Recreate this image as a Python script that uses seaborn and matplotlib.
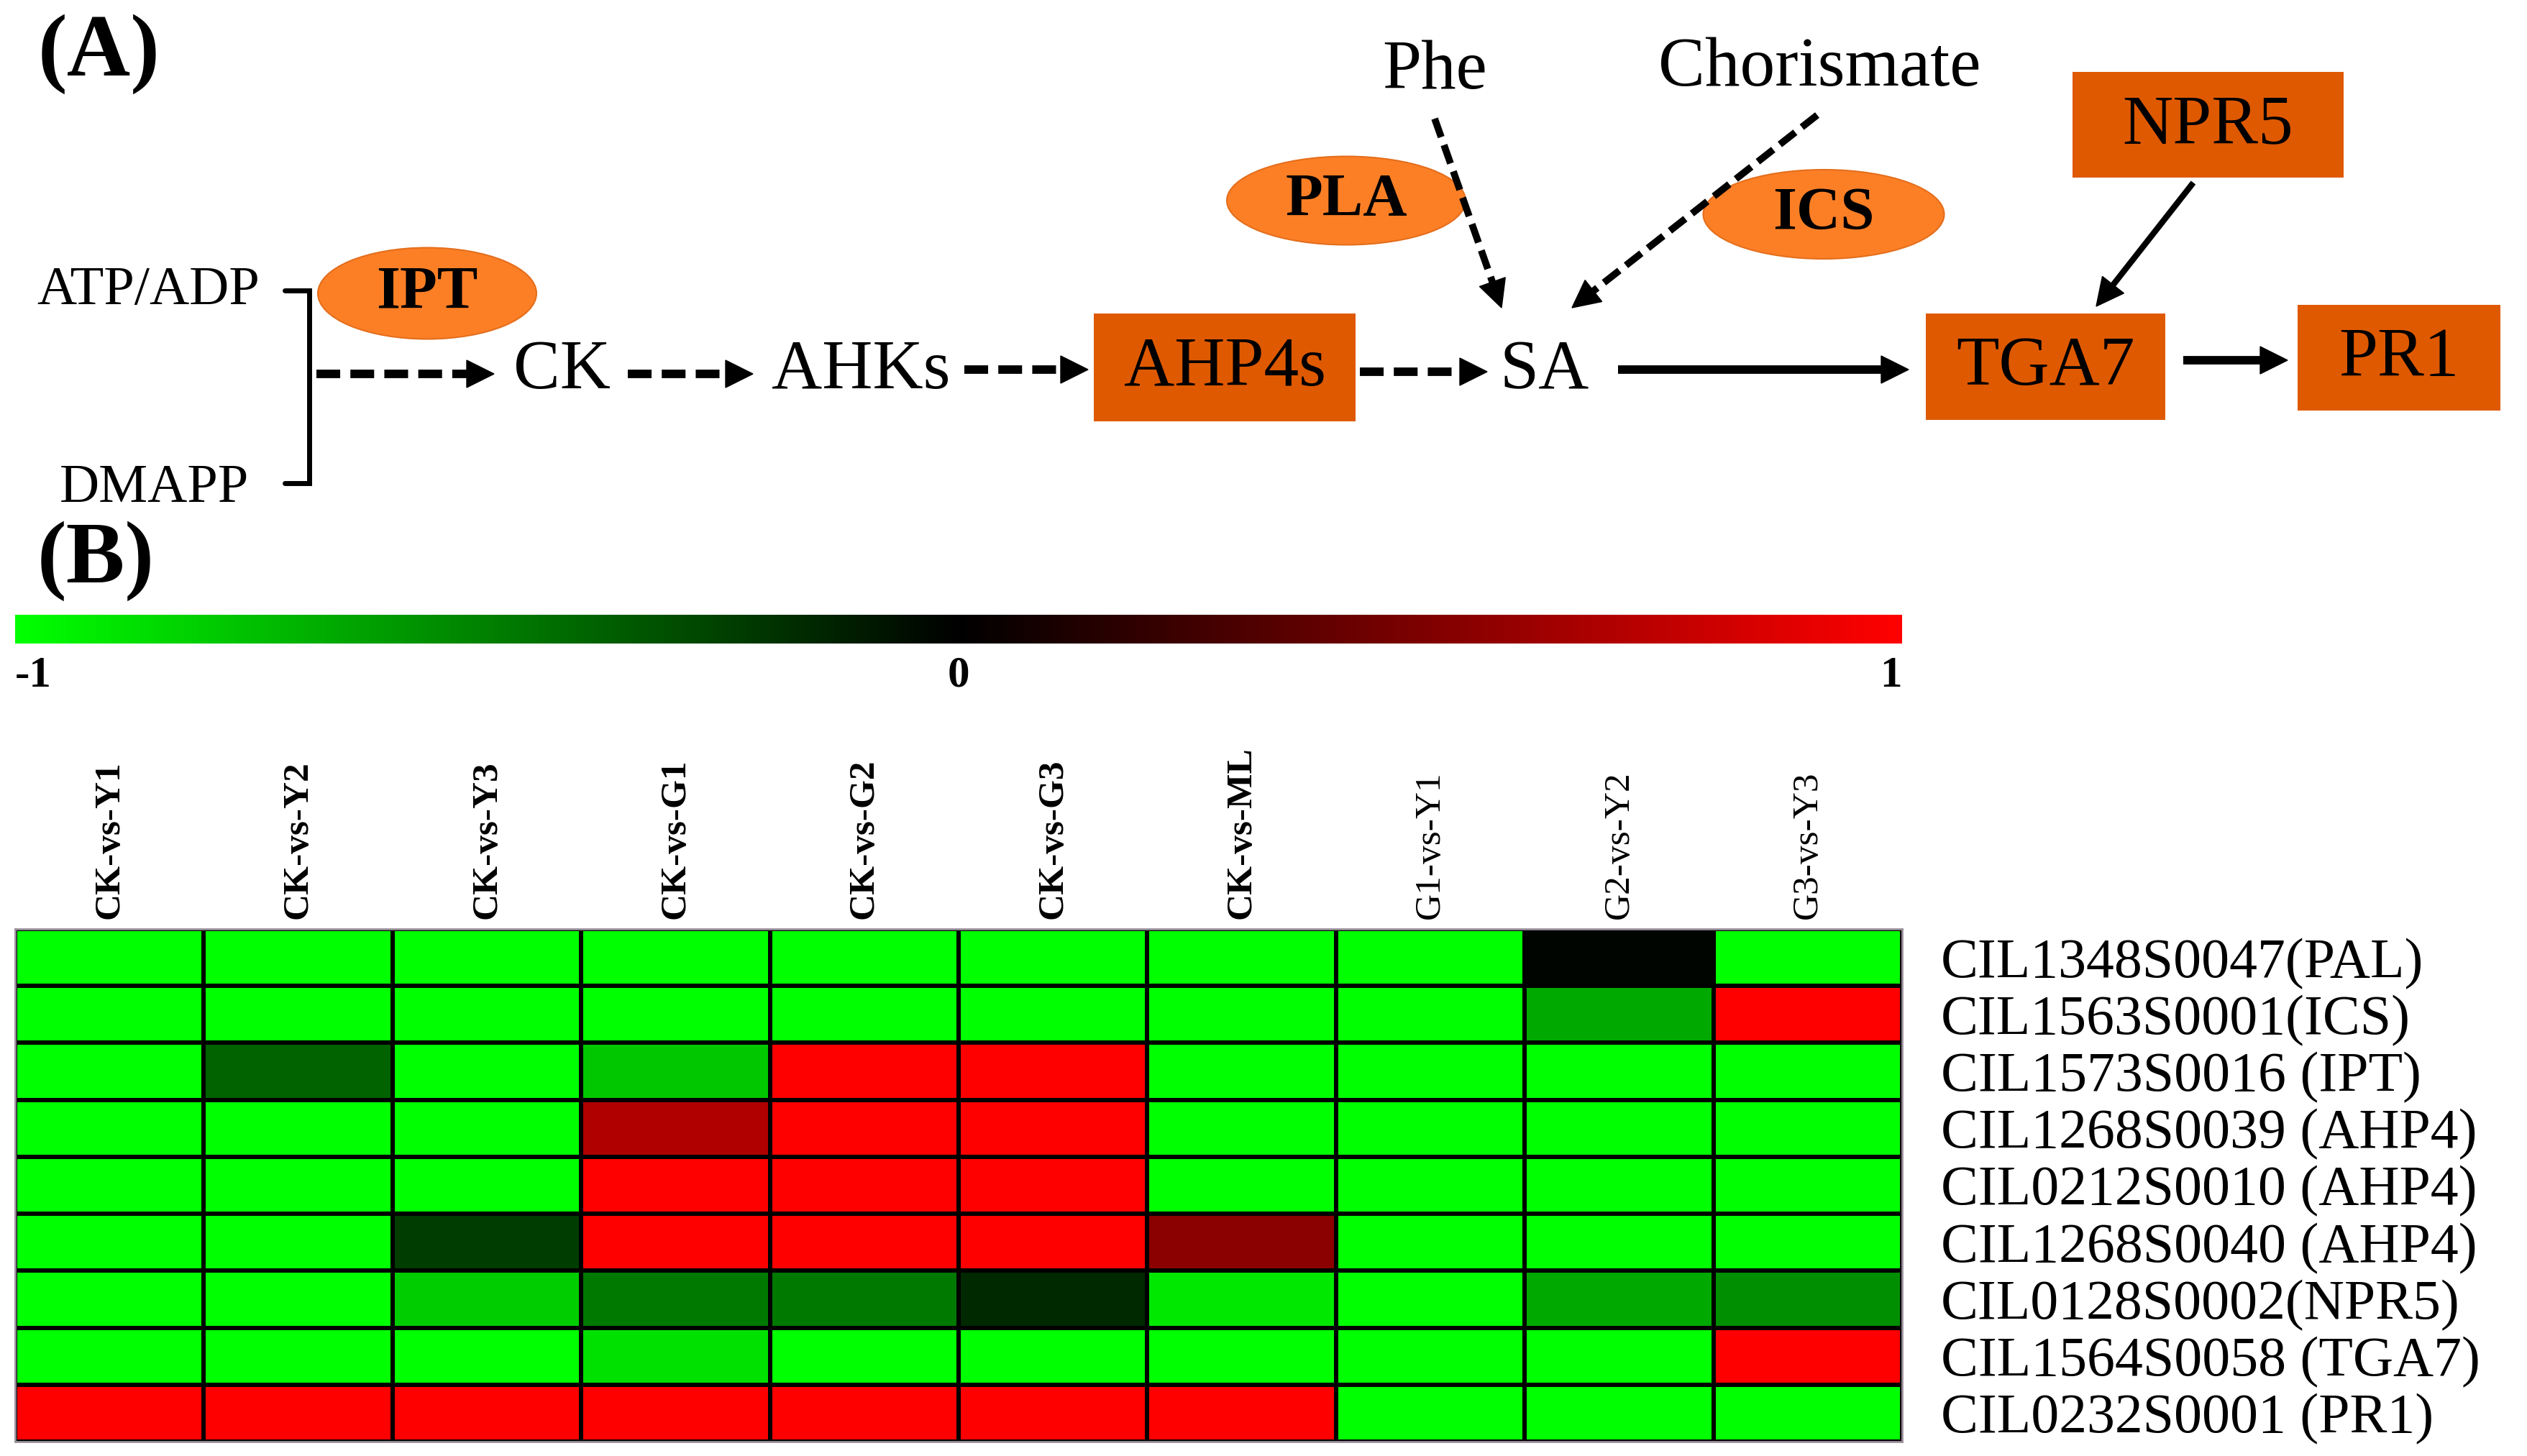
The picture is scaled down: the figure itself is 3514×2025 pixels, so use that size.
import matplotlib
matplotlib.use('Agg')
import matplotlib.pyplot as plt
import seaborn as sns
import numpy as np
import pandas as pd
from matplotlib.colors import LinearSegmentedColormap
from matplotlib.patches import Ellipse, Rectangle, Polygon

# Données de la heatmap (log2 fold change, échelle -1 .. 1)
comparaisons = ['CK-vs-Y1', 'CK-vs-Y2', 'CK-vs-Y3', 'CK-vs-G1', 'CK-vs-G2',
                'CK-vs-G3', 'CK-vs-ML', 'G1-vs-Y1', 'G2-vs-Y2', 'G3-vs-Y3']
genes = ['CIL1348S0047(PAL)', 'CIL1563S0001(ICS)', 'CIL1573S0016 (IPT)',
         'CIL1268S0039 (AHP4)', 'CIL0212S0010 (AHP4)', 'CIL1268S0040 (AHP4)',
         'CIL0128S0002(NPR5)', 'CIL1564S0058 (TGA7)', 'CIL0232S0001 (PR1)']

pal = [-1, -1, -1, -1, -1, -1, -1, -1, -0.02, -1]
ics = [-1, -1, -1, -1, -1, -1, -1, -1, -0.66, 1]
ipt = [-1, -0.39, -1, -0.78, 1, 1, -1, -1, -1, -1]
ahp4_a = [-1, -1, -1, 0.69, 1, 1, -1, -1, -1, -1]
ahp4_b = [-1, -1, -1, 1, 1, 1, -1, -1, -1, -1]
ahp4_c = [-1, -1, -0.24, 1, 1, 1, 0.54, -1, -1, -1]
npr5 = [-1, -1, -0.8, -0.47, -0.47, -0.16, -0.9, -1, -0.66, -0.56]
tga7 = [-1, -1, -1, -0.88, -1, -1, -1, -1, -1, 1]
pr1 = [1, 1, 1, 1, 1, 1, 1, -1, -1, -1]

colorbar_ticks = [-1, 0, 1]

W, H = 3514, 2025
SERIF = 'Liberation Serif'

sns.set_style('white')
plt.rcParams['font.family'] = [SERIF, 'DejaVu Serif']
plt.rcParams['text.color'] = 'black'
plt.rcParams['xtick.color'] = 'black'
plt.rcParams['ytick.color'] = 'black'

fig = plt.figure(figsize=(W / 100, H / 100), dpi=100)

# Axe de fond en coordonnées pixels pour le schéma (A)
ax0 = fig.add_axes([0, 0, 1, 1])
ax0.set_xlim(0, W)
ax0.set_ylim(H, 0)
ax0.axis('off')

ELL_COL = '#FC7F26'
BOX_COL = '#DF5900'


def fleche(x0, y0, x1, y1, dashed=True, lw=8.5, hl=38, hw=19):
    d = np.array([x1 - x0, y1 - y0], dtype=float)
    L = np.hypot(*d)
    u = d / L
    n = np.array([-u[1], u[0]])
    xe, ye = x1 - u[0] * hl, y1 - u[1] * hl
    ls = (0, (2.8, 1.2)) if dashed else '-'
    ax0.plot([x0, xe], [y0, ye], color='black', lw=lw, linestyle=ls,
             solid_capstyle='butt', dash_capstyle='butt', zorder=5)
    tete = Polygon([[x1, y1], [xe + n[0] * hw, ye + n[1] * hw],
                    [xe - n[0] * hw, ye - n[1] * hw]], closed=True,
                   color='black', zorder=5)
    ax0.add_patch(tete)


def ellipse(cx, cy, w, h, txt):
    ax0.add_patch(Ellipse((cx, cy), w, h, facecolor=ELL_COL,
                          edgecolor='#E46E1C', lw=1.5, zorder=2))
    ax0.text(cx, cy, txt, ha='center', va='center', fontsize=61,
             fontweight='bold', color='black', zorder=3)


def boite(x0, y0, x1, y1, txt):
    ax0.add_patch(Rectangle((x0, y0), x1 - x0, y1 - y0, facecolor=BOX_COL,
                            edgecolor='none', zorder=2))
    ax0.text((x0 + x1) / 2, (y0 + y1) / 2 + 2, txt, ha='center', va='center',
             fontsize=70, color='black', zorder=3)


# Étiquettes de panneaux
ax0.text(138, 75, '(A)', ha='center', va='center', fontsize=88, fontweight='bold')
ax0.text(133, 780, '(B)', ha='center', va='center', fontsize=88, fontweight='bold')

# Substrats et crochet
ax0.text(206, 405, 'ATP/ADP', ha='center', va='center', fontsize=55)
ax0.text(214, 680, 'DMAPP', ha='center', va='center', fontsize=55)
ax0.plot([396, 430, 430, 396], [404, 404, 672, 672], color='black', lw=5,
         solid_joinstyle='miter')

ellipse(594, 408, 304, 127, 'IPT')
ellipse(1872, 279, 332, 123, 'PLA')
ellipse(2536, 298, 335, 124, 'ICS')

# Chaîne principale
fleche(440, 520, 687, 520)
ax0.text(781, 517, 'CK', ha='center', va='center', fontsize=70)
fleche(873, 520, 1047, 520)
ax0.text(1197, 517, 'AHKs', ha='center', va='center', fontsize=70)
fleche(1341, 514, 1513, 514)
boite(1521, 436, 1885, 586, 'AHP4s')
fleche(1891, 517, 2068, 517)
ax0.text(2148, 517, 'SA', ha='center', va='center', fontsize=70)
fleche(2250, 514, 2654, 514, dashed=False)
boite(2678, 436, 3011, 584, 'TGA7')
fleche(3036, 501, 3181, 501, dashed=False)
boite(3195, 424, 3477, 571, 'PR1')
boite(2882, 100, 3259, 247, 'NPR5')
fleche(3050, 254, 2915, 426, dashed=False, lw=6)

ax0.text(1995, 100, 'Phe', ha='center', va='center', fontsize=70)
ax0.text(2530, 96, 'Chorismate', ha='center', va='center', fontsize=70)
fleche(1995, 165, 2088, 428, lw=7)
fleche(2527, 160, 2186, 428, lw=7)

# Heatmap (B)
df = pd.DataFrame([pal, ics, ipt, ahp4_a, ahp4_b, ahp4_c, npr5, tga7, pr1],
                  index=genes, columns=comparaisons)
cmap = LinearSegmentedColormap.from_list('vnr', ['#00FF00', '#000000', '#FF0000'])

ax_hm = fig.add_axes([21 / W, 1 - 2005 / H, (2645 - 21) / W, (2005 - 1292) / H])
ax_cb = fig.add_axes([21 / W, 1 - 895 / H, (2645 - 21) / W, 40 / H])

sns.heatmap(df, ax=ax_hm, cmap=cmap, vmin=-1, vmax=1, linewidths=3,
            linecolor='black', cbar_ax=ax_cb,
            cbar_kws={'orientation': 'horizontal', 'ticks': colorbar_ticks})

ax_hm.xaxis.tick_top()
ax_hm.set_xticklabels(comparaisons, rotation=90, fontsize=37)
for i, lab in enumerate(ax_hm.get_xticklabels()):
    lab.set_fontweight('bold' if comparaisons[i].startswith('CK') else 'normal')
ax_hm.yaxis.tick_right()
ax_hm.set_yticklabels(genes, rotation=0, fontsize=56)
ax_hm.tick_params(axis='x', length=0, pad=10, colors='black')
ax_hm.tick_params(axis='y', length=0, pad=39, colors='black')
ax_hm.set_xlabel('')
ax_hm.set_ylabel('')
for s in ax_hm.spines.values():
    s.set_visible(True)
    s.set_color('#9a8f9a')
    s.set_linewidth(2)

# Barre de couleur : étiquettes -1 / 0 / 1 en gras
cb = ax_hm.collections[0].colorbar
cb.outline.set_visible(False)
cb.set_ticks(colorbar_ticks)
cb.set_ticklabels(['-1', '0', '1'])
cb.ax.tick_params(length=0, pad=12, colors='black', labelsize=44)
for lab, ha in zip(cb.ax.get_xticklabels(), ['left', 'center', 'right']):
    lab.set_fontsize(44)
    lab.set_fontweight('bold')
    lab.set_ha(ha)

fig.savefig('out.png', dpi=100)
